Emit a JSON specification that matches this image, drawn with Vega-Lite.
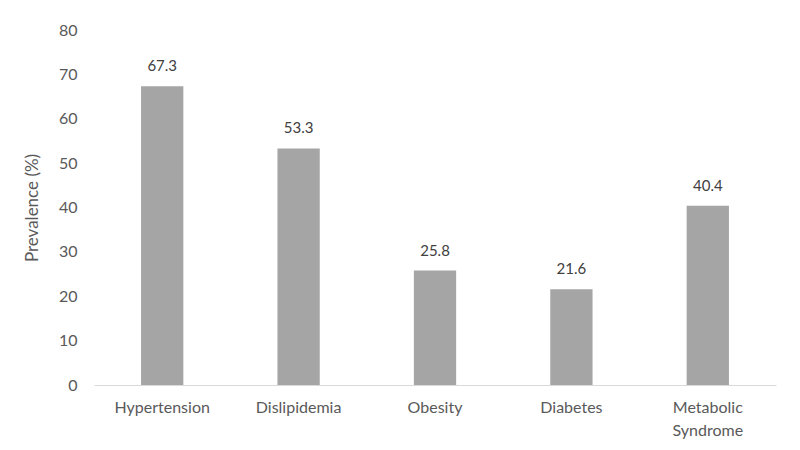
{
  "$schema": "https://vega.github.io/schema/vega-lite/v6.json",
  "width": 682,
  "height": 355,
  "autosize": {"type": "none"},
  "padding": {"left": 94, "top": 30, "right": 24, "bottom": 65},
  "background": "white",
  "config": {
    "view": {"stroke": null},
    "font": "Lato"
  },
  "data": {
    "values": [
      {"condition": "Hypertension", "prevalence": 67.3},
      {"condition": "Dislipidemia", "prevalence": 53.3},
      {"condition": "Obesity", "prevalence": 25.8},
      {"condition": "Diabetes", "prevalence": 21.6},
      {"condition": "Metabolic Syndrome", "prevalence": 40.4}
    ]
  },
  "encoding": {
    "x": {
      "field": "condition",
      "type": "nominal",
      "sort": null,
      "scale": {"paddingInner": 0.69, "paddingOuter": 0.345},
      "axis": {
        "title": null,
        "labelAngle": 0,
        "ticks": false,
        "domainColor": "#d9d9d9",
        "labelColor": "#595959",
        "labelFontSize": 16,
        "labelPadding": 14,
        "labelLineHeight": 23,
        "labelExpr": "datum.label == 'Metabolic Syndrome' ? ['Metabolic', 'Syndrome'] : datum.label"
      }
    },
    "y": {
      "field": "prevalence",
      "type": "quantitative",
      "scale": {"domain": [0, 80]},
      "axis": {
        "title": "Prevalence (%)",
        "titleFontWeight": "normal",
        "titleFontSize": 17,
        "titleColor": "#595959",
        "titlePadding": 17,
        "values": [0, 10, 20, 30, 40, 50, 60, 70, 80],
        "grid": false,
        "domain": false,
        "ticks": false,
        "labelColor": "#595959",
        "labelFontSize": 16,
        "labelPadding": 17
      }
    }
  },
  "layer": [
    {"mark": {"type": "bar", "color": "#a5a5a5"}},
    {
      "mark": {"type": "text", "baseline": "bottom", "dy": -12, "fontSize": 15, "color": "#404040"},
      "encoding": {"text": {"field": "prevalence", "type": "quantitative", "format": ".1f"}}
    }
  ]
}
